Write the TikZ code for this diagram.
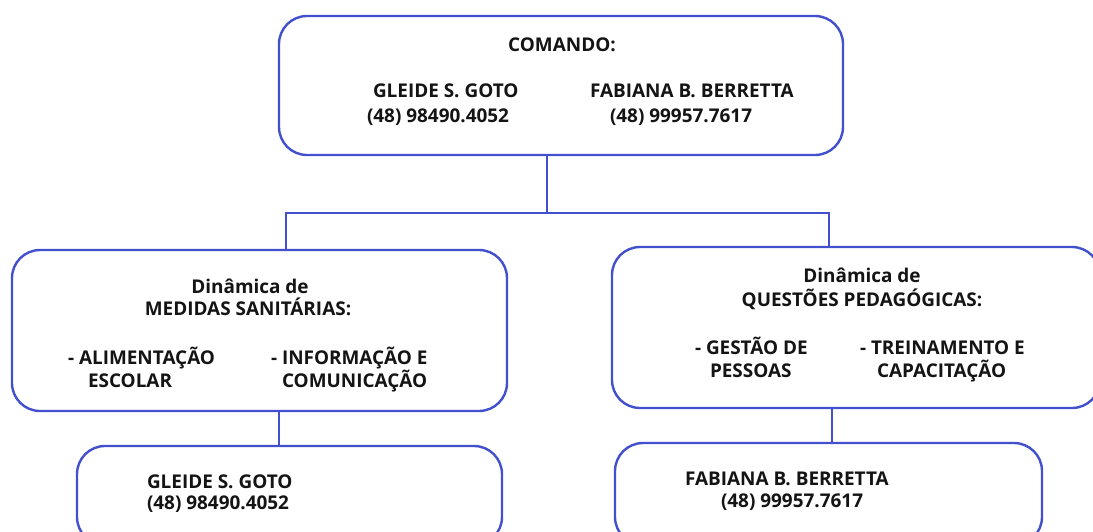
\documentclass[tikz,border=0pt]{standalone}
\usepackage{fontspec}
\setmainfont{Open Sans}
\definecolor{edge}{RGB}{66,80,205}
\definecolor{ink}{RGB}{20,20,20}
\begin{document}
\begin{tikzpicture}[x=0.75pt,y=-0.75pt,
  box/.style={draw=edge,line width=1.8pt,rounded corners=21pt,inner sep=0pt,outer sep=0pt,fill=white},
  link/.style={draw=edge,line width=1.8pt},
  txt/.style={inner sep=0pt,outer sep=0pt,yshift=-2pt,text=ink,font=\bfseries\fontsize{14.2}{17}\selectfont,text height=0.714em,text depth=0pt}]
\useasboundingbox (0,0) rectangle (1093,532);
\clip (0,0) rectangle (1093,532);
% boxes
\node[box,minimum width=423pt,minimum height=104.25pt] (top) at (561,85.5) {};
\node[box,minimum width=371.25pt,minimum height=120.75pt] (left) at (259.5,330.5) {};
\node[box,minimum width=366pt,minimum height=120.75pt] (right) at (856,327.5) {};
\node[box,minimum width=318.75pt,minimum height=74.25pt] (bl) at (289.5,495.5) {};
\node[box,minimum width=320.25pt,minimum height=76.5pt] (br) at (828.5,494) {};
% junctions
\coordinate (j) at (547,213);
\coordinate (jl) at (286,213);
\coordinate (jr) at (829,213);
\coordinate (cl) at (279,0);
\coordinate (cr) at (832,0);
\draw[link] (top.south -| j) -- (j);
\draw[link] (left.north -| jl) -- (jl) -- (jr) -- (right.north -| jr);
\draw[link] (left.south -| cl) -- (bl.north -| cl);
\draw[link] (right.south -| cr) -- (br.north -| cr);
% top texts
\node[txt] (t0) at (562,44) {COMANDO:};
\node[txt,anchor=west] (t1) at (373,90) {GLEIDE S. GOTO};
\node[txt,anchor=west] (t2) at (367,115) {(48) 98490.4052};
\node[txt,anchor=west] (t3) at (590,90) {FABIANA B. BERRETTA};
\node[txt,anchor=west] (t4) at (610,115) {(48) 99957.7617};
% left texts
\node[txt] (l0) at (250,286) {Dinâmica de};
\node[txt] (l1) at (248,308) {MEDIDAS SANITÁRIAS:};
\node[txt,anchor=west] (l2) at (68,357) {- ALIMENTAÇÃO};
\node[txt,anchor=west] (l3) at (88,380) {ESCOLAR};
\node[txt,anchor=west] (l4) at (271,357) {- INFORMAÇÃO E};
\node[txt,anchor=west] (l5) at (282,380) {COMUNICAÇÃO};
% right texts
\node[txt] (r0) at (862,275) {Dinâmica de};
\node[txt] (r1) at (862,299) {QUESTÕES PEDAGÓGICAS:};
\node[txt,anchor=west] (r2) at (695,347) {- GESTÃO DE};
\node[txt,anchor=west] (r3) at (710,370) {PESSOAS};
\node[txt,anchor=west] (r4) at (860,347) {- TREINAMENTO E};
\node[txt,anchor=west] (r5) at (877,370) {CAPACITAÇÃO};
% bottom texts
\node[txt,anchor=west] (b1) at (147,481) {GLEIDE S. GOTO};
\node[txt,anchor=west] (b2) at (147,502) {(48) 98490.4052};
\node[txt,anchor=west] (b3) at (685,478) {FABIANA B. BERRETTA};
\node[txt,anchor=west] (b4) at (721,500) {(48) 99957.7617};
\end{tikzpicture}
\end{document}
